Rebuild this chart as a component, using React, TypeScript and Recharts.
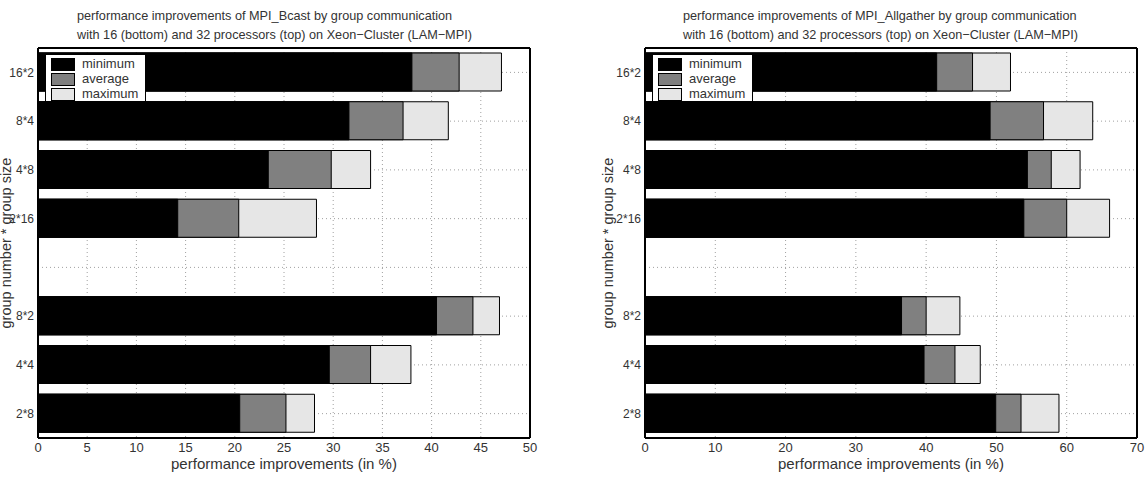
import React from "react";
import {
    BarChart,
    Bar,
    XAxis,
    YAxis,
    CartesianGrid,
    Label,
} from "recharts";

// group labels, top to bottom (blank row separates 32 and 16 processors)
const groups = ["16*2", "8*4", "4*8", "2*16", " ", "8*2", "4*4", "2*8"];

// MPI_Bcast
const bcastMin = [38.0, 31.6, 23.4, 14.2, null, 40.5, 29.6, 20.5];
const bcastAvg = [42.8, 37.1, 29.8, 20.4, null, 44.2, 33.8, 25.2];
const bcastMax = [47.1, 41.7, 33.8, 28.3, null, 46.9, 37.9, 28.1];
const bcastTicks = [0, 5, 10, 15, 20, 25, 30, 35, 40, 45, 50];

// MPI_Allgather
const allgMin = [41.5, 49.1, 54.4, 53.9, null, 36.5, 39.7, 49.9];
const allgAvg = [46.6, 56.7, 57.8, 60.0, null, 40.0, 44.1, 53.5];
const allgMax = [52.0, 63.7, 61.9, 66.1, null, 44.8, 47.7, 58.9];
const allgTicks = [0, 10, 20, 30, 40, 50, 60, 70];

const FONT = "'Liberation Sans', Arial, sans-serif";
const TEXT = "#333";

const buildRows = (min: any[], avg: any[], max: any[]) =>
    groups.map((name, i) => ({
        name,
        minimum: min[i],
        average: avg[i],
        maximum: max[i],
    }));

const legendItems = [
    { label: "minimum", color: "#000000" },
    { label: "average", color: "#808080" },
    { label: "maximum", color: "#e6e6e6" },
];

interface PanelProps {
    left: number;
    width: number;
    axisWidth: number;
    rightMargin: number;
    data: any[];
    ticks: number[];
    title: string;
    titleX: number;
    yLabelX: number;
}

const Panel: React.FC<PanelProps> = ({
    left,
    width,
    axisWidth,
    rightMargin,
    data,
    ticks,
    title,
    titleX,
    yLabelX,
}) => {
    const plotLeft = axisWidth;
    const domainMax = ticks[ticks.length - 1];
    const frame = { stroke: "#000", strokeWidth: 2 };

    return (
        <div
            style={{
                position: "absolute",
                left,
                top: 0,
                width,
                height: 477,
                fontFamily: FONT,
                color: TEXT,
            }}
        >
            <BarChart
                width={width}
                height={477}
                data={data}
                layout="vertical"
                margin={{ top: 48, right: rightMargin - 1, left: 0, bottom: 0 }}
                barGap={-38}
            >
                <CartesianGrid stroke="#a0a0a0" strokeDasharray="1 3" />
                {/* thin bottom axis: frame line plus inward ticks */}
                <XAxis
                    xAxisId="tickIn"
                    type="number"
                    domain={[0, domainMax]}
                    ticks={ticks}
                    orientation="bottom"
                    mirror
                    height={1}
                    axisLine={frame}
                    tick={false}
                    tickSize={5}
                    tickLine={{ stroke: "#000" }}
                />
                <XAxis
                    type="number"
                    domain={[0, domainMax]}
                    ticks={ticks}
                    height={39}
                    axisLine={false}
                    tickLine={false}
                    tickSize={0}
                    tickMargin={5}
                    tick={{ fontSize: 13, fill: TEXT, fontFamily: FONT }}
                >
                    <Label
                        value="performance improvements (in %)"
                        position="insideBottom"
                        offset={8}
                        style={{ fontSize: 15, fill: TEXT, fontFamily: FONT }}
                    />
                </XAxis>
                <XAxis
                    xAxisId="top"
                    type="number"
                    domain={[0, domainMax]}
                    ticks={ticks}
                    orientation="top"
                    mirror
                    height={1}
                    axisLine={frame}
                    tick={false}
                    tickSize={5}
                    tickLine={{ stroke: "#000" }}
                />
                <YAxis
                    dataKey="name"
                    type="category"
                    width={axisWidth}
                    axisLine={frame}
                    tickLine={false}
                    tickSize={0}
                    tickMargin={4}
                    tick={{ fontSize: 12, fill: TEXT, fontFamily: FONT }}
                />
                <YAxis
                    yAxisId="right"
                    dataKey="name"
                    type="category"
                    orientation="right"
                    mirror
                    width={1}
                    axisLine={frame}
                    tick={false}
                    tickSize={5}
                    tickLine={{ stroke: "#000" }}
                />
                <Bar
                    dataKey="maximum"
                    fill="#e6e6e6"
                    stroke="#000"
                    strokeWidth={1}
                    barSize={38}
                    isAnimationActive={false}
                />
                <Bar
                    dataKey="average"
                    fill="#808080"
                    stroke="#000"
                    strokeWidth={1}
                    barSize={38}
                    isAnimationActive={false}
                />
                <Bar
                    dataKey="minimum"
                    fill="#000000"
                    stroke="#000"
                    strokeWidth={1}
                    barSize={38}
                    isAnimationActive={false}
                />
            </BarChart>

            {/* two-line title, left aligned */}
            <div
                style={{
                    position: "absolute",
                    left: titleX,
                    top: 7,
                    fontSize: 12.7,
                    lineHeight: "18.5px",
                    whiteSpace: "nowrap",
                }}
            >
                <div>{title}</div>
                <div>
                    with 16 (bottom) and 32 processors (top) on Xeon−Cluster
                    (LAM−MPI)
                </div>
            </div>

            {/* rotated y axis title */}
            <div
                style={{
                    position: "absolute",
                    left: yLabelX - 150,
                    top: 243 - 10,
                    width: 300,
                    height: 20,
                    lineHeight: "20px",
                    textAlign: "center",
                    fontSize: 14.5,
                    transform: "rotate(-90deg)",
                    whiteSpace: "nowrap",
                }}
            >
                group number * group size
            </div>

            {/* legend box in the upper left corner */}
            <div
                style={{
                    position: "absolute",
                    left: plotLeft + 7,
                    top: 54,
                    width: 99,
                    height: 46,
                    border: "1px solid #000",
                    background: "#fff",
                    fontSize: 13,
                }}
            >
                {legendItems.map((item, i) => (
                    <div
                        key={item.label}
                        style={{
                            position: "absolute",
                            left: 5,
                            top: 3 + i * 15.2,
                            height: 12,
                            display: "flex",
                            alignItems: "center",
                        }}
                    >
                        <span
                            style={{
                                display: "inline-block",
                                width: 22,
                                height: 11,
                                background: item.color,
                                border: "1px solid #000",
                            }}
                        />
                        <span style={{ marginLeft: 7, lineHeight: "12px" }}>
                            {item.label}
                        </span>
                    </div>
                ))}
            </div>
        </div>
    );
};

const App: React.FC = () => {
    return (
        <div
            style={{
                position: "absolute",
                left: 0,
                top: 0,
                width: 1145,
                height: 477,
                background: "#fff",
                overflow: "hidden",
            }}
        >
            <Panel
                left={0}
                width={560}
                axisWidth={38}
                rightMargin={31}
                data={buildRows(bcastMin, bcastAvg, bcastMax)}
                ticks={bcastTicks}
                title="performance improvements of MPI_Bcast by group communication"
                titleX={77}
                yLabelX={6}
            />
            <Panel
                left={575}
                width={570}
                axisWidth={70}
                rightMargin={9}
                data={buildRows(allgMin, allgAvg, allgMax)}
                ticks={allgTicks}
                title="performance improvements of MPI_Allgather by group communication"
                titleX={108}
                yLabelX={33}
            />
        </div>
    );
};

export default App;
